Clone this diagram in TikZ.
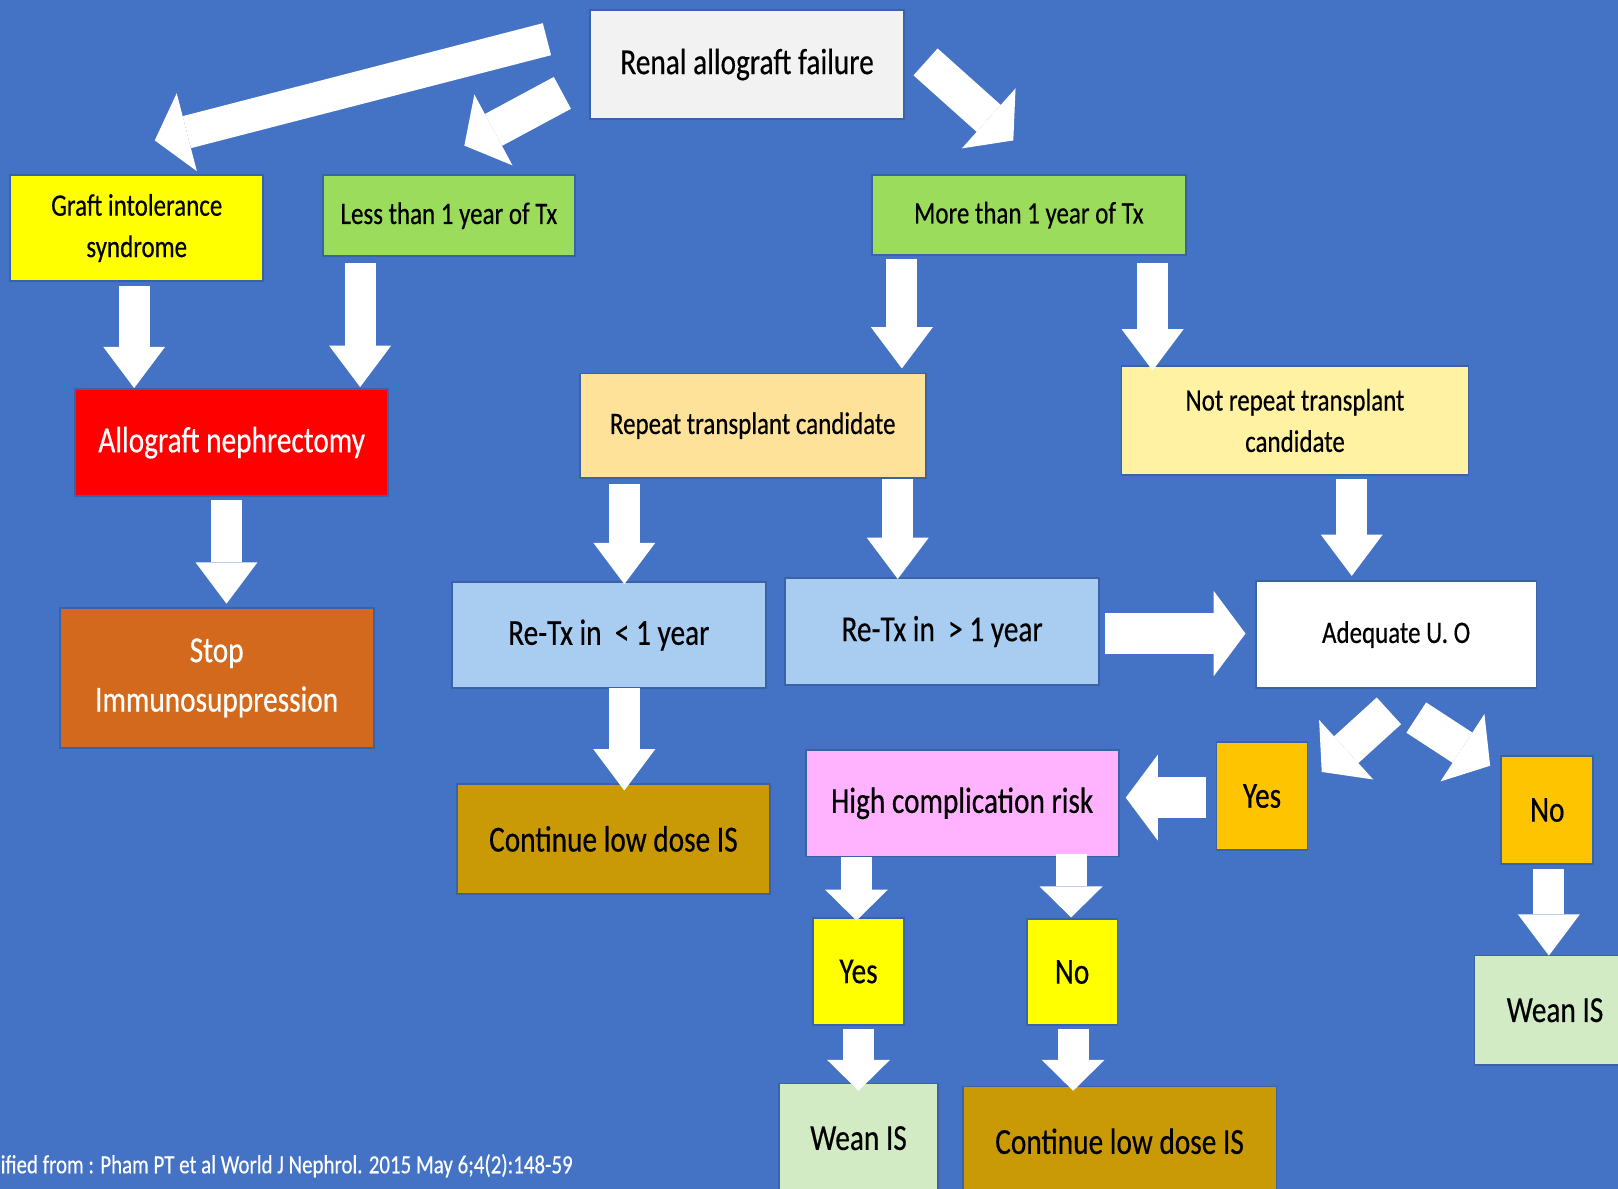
\documentclass[tikz,border=0pt]{standalone}
\usepackage{fontspec}
\setmainfont{Carlito}[FakeStretch=0.8, FakeBold=0.4]
\usepackage{xcolor}
\usetikzlibrary{arrows.meta}

\definecolor{bgblue}{HTML}{4472C4}
\definecolor{edgeblue}{HTML}{3A62A8}
\definecolor{failgray}{HTML}{F2F2F2}
\definecolor{graftyellow}{HTML}{FFFF00}
\definecolor{txgreen}{HTML}{9CDC5C}
\definecolor{nephrred}{HTML}{FF0000}
\definecolor{stoporange}{HTML}{D2691C}
\definecolor{repeatpeach}{HTML}{FFE29A}
\definecolor{notrepyellow}{HTML}{FFF2A3}
\definecolor{retxblue}{HTML}{A9CCF1}
\definecolor{lowgold}{HTML}{C99A06}
\definecolor{riskpink}{HTML}{FFB3FF}
\definecolor{answerorange}{HTML}{FFC400}
\definecolor{weangreen}{HTML}{D3EBC4}

\begin{document}
\begin{tikzpicture}[x=0.01cm, y=-0.01cm,
    box/.style={rectangle, draw=edgeblue, line width=0.5pt, inner sep=0pt, align=center, text=black},
    sz/.style 2 args={minimum width=#1cm, minimum height=#2cm},
    big/.style={font=\fontsize{10.1}{13.6}\selectfont},
    small/.style={font=\fontsize{8.6}{11.4}\selectfont},
    fat/.style n args={3}{draw=white, line width=#1, -{Triangle[width=#2, length=#3, line width=0pt]}},
    diag/.style={fat={0.35cm}{0.78cm}{0.32cm}},
    down/.style={fat={0.30cm}{0.60cm}{0.40cm}},
    shortdown/.style={fat={0.30cm}{0.61cm}{0.30cm}},
    side/.style={fat={0.40cm}{0.83cm}{0.31cm}}]

    \useasboundingbox (0,0) rectangle (1568,1152);
    \clip (0,0) rectangle (1568,1152);
    \fill[bgblue] (0,0) rectangle (1568,1152);

    % boxes
    \node[box, big, fill=failgray, sz={3.04}{1.05}] (fail) at (724,62.5) {Renal allograft failure};
    \node[box, small, fill=graftyellow, sz={2.45}{1.02}] (graft) at (132.5,221) {Graft intolerance\\syndrome};
    \node[box, small, fill=txgreen, sz={2.44}{0.78}] (less) at (435,209) {Less than 1 year of Tx};
    \node[box, small, fill=txgreen, sz={3.04}{0.77}] (more) at (997,208.5) {More than 1 year of Tx};
    \node[box, big, fill=nephrred, text=white, sz={3.03}{1.04}] (nephr) at (224.5,429) {Allograft nephrectomy};
    \node[box, big, fill=stoporange, text=white, sz={3.04}{1.36}] (stop) at (210,657) {Stop\\Immunosuppression};
    \node[box, small, fill=repeatpeach, sz={3.35}{1.01}] (repeat) at (729.5,412.5) {Repeat transplant candidate};
    \node[box, small, fill=notrepyellow, sz={3.36}{1.05}] (notrep) at (1255,407.5) {Not repeat transplant\\candidate};
    \node[box, big, fill=retxblue, sz={3.04}{1.03}] (lt1) at (590,615.5) {Re-Tx in \ < 1 year};
    \node[box, big, fill=retxblue, sz={3.04}{1.04}] (gt1) at (913,612) {Re-Tx in \ > 1 year};
    \node[box, small, fill=white, sz={2.72}{1.04}] (uo) at (1353,615) {Adequate U. O};
    \node[box, big, fill=lowgold, sz={3.03}{1.06}] (cont1) at (594.5,813) {Continue low dose IS};
    \node[box, big, fill=riskpink, sz={3.03}{1.03}] (risk) at (932.5,778.5) {High complication risk};
    \node[box, big, fill=answerorange, sz={0.88}{1.05}] (yes1) at (1223,771.5) {Yes};
    \node[box, big, fill=answerorange, sz={0.89}{1.04}] (no1) at (1499.5,785) {No};
    \node[box, big, fill=graftyellow, sz={0.88}{1.03}] (yes2) at (832,941.5) {Yes};
    \node[box, big, fill=graftyellow, sz={0.88}{1.02}] (no2) at (1039,942) {No};
    \node[box, big, fill=weangreen, sz={1.54}{1.06}] (wean1) at (832,1103) {Wean IS};
    \node[box, big, fill=lowgold, sz={3.04}{1.06}] (cont2) at (1085,1106) {Continue low dose IS};
    \node[box, big, fill=weangreen, sz={1.56}{1.06}] (wean2) at (1507,979) {Wean IS};

    \node[anchor=base west, inner sep=0pt, text=white, font=\fontsize{7.2}{8.6}\selectfont] (source) at (0,1137)
        {ified from : Pham PT et al World J Nephrol. 2015 May 6;4(2):148-59};

    % block arrows
    \draw[diag, line width=0.32cm] ([shift={(-41,-24.5)}]fail.west) -- ([shift={(17.5,-33)}]graft.north);
    \draw[diag] ([shift={(-26,27.5)}]fail.west) -- ([shift={(15,-28)}]less.north);
    \draw[diag] ([shift={(20,-2.5)}]fail.east) -- ([shift={(-15,-33)}]more.north);

    \draw[down] ([shift={(-2.5,4)}]graft.south) -- ([shift={(-94.5,0)}]nephr.north);
    \draw[down] ([shift={(-86,6)}]less.south) -- ([shift={(124.5,-1)}]nephr.north);
    \draw[down] ([shift={(-5,3)}]nephr.south) -- ([shift={(9.5,-3)}]stop.north);

    \draw[down] ([shift={(-123,3)}]more.south) -- ([shift={(144.5,-4)}]repeat.north);
    \draw[down] ([shift={(120,7)}]more.south) -- ([shift={(-138,5)}]notrep.north);
    \draw[down] ([shift={(-124.5,5)}]repeat.south) -- ([shift={(15,3)}]lt1.north);
    \draw[down] ([shift={(140.5,0)}]repeat.south) -- ([shift={(-43,2)}]gt1.north);
    \draw[down] ([shift={(55,3)}]notrep.south) -- ([shift={(-43,-4)}]uo.north);
    \draw[down] ([shift={(15,-1)}]lt1.south) -- ([shift={(10.5,7)}]cont1.north);

    \draw[side] ([shift={(5,2)}]gt1.east) -- ([shift={(-9,-1)}]uo.west);
    \draw[side] ([shift={(-9,1.5)}]yes1.west) -- ([shift={(6,-5.5)}]risk.east);

    \draw[diag] ([shift={(-7,21)}]uo.south) -- ([shift={(13,30)}]yes1.north east);
    \draw[diag] ([shift={(19.5,27.5)}]uo.south) -- ([shift={(-10,10)}]no1.north west);
    \draw[down] ([shift={(1.5,4)}]no1.south) -- ([shift={(-6,1)}]wean2.north);

    \draw[shortdown] ([shift={(-102.5,0)}]risk.south) -- ([shift={(-2,3)}]yes2.north);
    \draw[shortdown] ([shift={(105.5,-3)}]risk.south) -- ([shift={(-1,-1)}]no2.north);
    \draw[shortdown] ([shift={(0,3)}]yes2.south) -- ([shift={(0,8)}]wean1.north);
    \draw[shortdown] ([shift={(1,3)}]no2.south) -- ([shift={(-45,5)}]cont2.north);
\end{tikzpicture}
\end{document}
